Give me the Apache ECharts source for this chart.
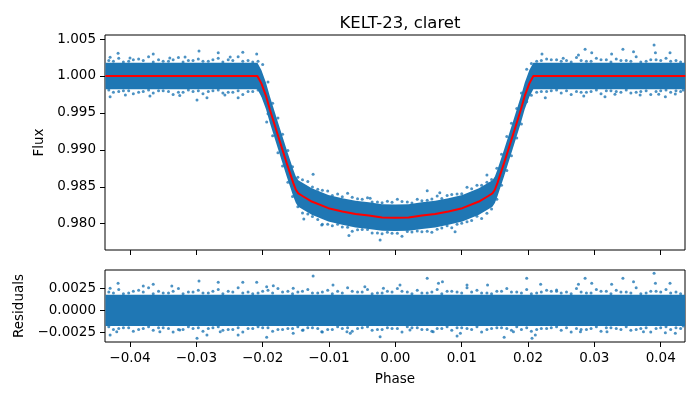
<!DOCTYPE html>
<html>
<head>
<meta charset="utf-8">
<script src="https://cdn.jsdelivr.net/npm/echarts@6/dist/echarts.min.js"></script>
<style>html,body{margin:0;padding:0;background:#fff}#c{width:700px;height:400px}</style>
</head>
<body>
<div id="c"></div>
<script>
// ---- tick labels ----
const xTicks = [-0.04, -0.03, -0.02, -0.01, 0.0, 0.01, 0.02, 0.03, 0.04];
const fluxTicks = [0.980, 0.985, 0.990, 0.995, 1.000, 1.005];
const resTicks = [-0.0025, 0.0, 0.0025];

// ---- transit model (red line) ----
const modelPhase = [-0.0437, -0.0208, -0.0202, -0.0195, -0.0189, -0.01765, -0.01638, -0.01538, -0.0150, -0.01463, -0.0140, -0.0126, -0.0101, -0.0080, -0.0060, -0.0040, -0.0020, 0.0, 0.0020, 0.0040, 0.0060, 0.0080, 0.0101, 0.0126, 0.0140, 0.01463, 0.0150, 0.01538, 0.01638, 0.01765, 0.0189, 0.0195, 0.0202, 0.0208, 0.0437];
const modelFlux = [1.0000, 1.0000, 0.9990, 0.9973, 0.9954, 0.9918, 0.9882, 0.9855, 0.9846, 0.9841, 0.98375, 0.9830, 0.9821, 0.98165, 0.9813, 0.9811, 0.98085, 0.9808, 0.98085, 0.9811, 0.9813, 0.98165, 0.9821, 0.9830, 0.98375, 0.9841, 0.9846, 0.9855, 0.9882, 0.9918, 0.9954, 0.9973, 0.9990, 1.0000, 1.0000];

// ---- dense core of the flux scatter (upper / lower envelope at model phases) ----
const fluxBandUpper = [1.0018, 1.0018, 1.0008, 0.9991, 0.9972, 0.9936, 0.9900, 0.9873, 0.9864, 0.9859, 0.98555, 0.9848, 0.9839, 0.98345, 0.9831, 0.9829, 0.98265, 0.9826, 0.98265, 0.9829, 0.9831, 0.98345, 0.9839, 0.9848, 0.98555, 0.9859, 0.9864, 0.9873, 0.9900, 0.9936, 0.9972, 0.9991, 1.0008, 1.0018, 1.0018];
const fluxBandLower = [0.9982, 0.9982, 0.9972, 0.9955, 0.9936, 0.9900, 0.9864, 0.9837, 0.9828, 0.9823, 0.98195, 0.9812, 0.9803, 0.97985, 0.9795, 0.9793, 0.97905, 0.9790, 0.97905, 0.9793, 0.9795, 0.97985, 0.9803, 0.9812, 0.98195, 0.9823, 0.9828, 0.9837, 0.9864, 0.9900, 0.9936, 0.9955, 0.9972, 0.9982, 0.9982];

// ---- dense core of the residual scatter ----
const resBandPhase = [-0.0437, 0.0437];
const resBandUpper = [0.0018, 0.0018];
const resBandLower = [-0.0018, -0.0018];

// ---- individual flux points (outliers and edge points) ----
const fluxPoints = [
 [-0.0430,1.00253],[-0.0418,1.00308],[-0.0400,1.00244],[-0.0365,1.00298],[-0.0340,1.00244],[-0.0296,1.00339],[-0.0267,1.00316],[-0.0230,1.00321],[-0.0209,1.00298],[-0.0317,1.00257],[-0.0249,1.00257],
 [-0.0430,0.99720],[-0.0407,0.99743],[-0.0370,0.99729],[-0.0325,0.99736],[-0.0299,0.99675],[-0.0284,0.99706],[-0.0257,0.99743],[-0.0237,0.99706],
 [-0.0194,0.99378],[-0.0124,0.98668],[-0.0138,0.98065],[-0.0111,0.97981],[-0.0070,0.97840],
 [-0.0023,0.97778],[0.0048,0.98446],[0.0067,0.98419],[0.0138,0.98659],[-0.0038,0.98343],[0.0090,0.97890],
 [0.0221,1.00298],[0.0286,1.00362],[0.0296,1.00316],[0.0326,1.00298],[0.0343,1.00362],[0.0359,1.00329],[0.0390,1.00420],[0.0392,1.00316],[0.0414,1.00316],[0.0276,1.00285],[0.0253,1.00240],
 [0.0226,0.99706],[0.0316,0.99720],[0.0331,0.99752],[0.0369,0.99743],[0.0397,0.99752],[0.0407,0.99720],[0.0422,0.99756],[0.0434,0.99810],[0.0284,0.99729],
 [-0.0432,1.0021],[-0.0417,1.0024],[-0.0402,1.0020],[-0.0387,1.0023],[-0.0372,1.0026],[-0.0357,1.0022],[-0.0342,1.0020],[-0.0327,1.0025],[-0.0312,1.0021],[-0.0297,1.0023],[-0.0282,1.0020],[-0.0267,1.0024],[-0.0252,1.0022],[-0.0237,1.0026],[-0.0222,1.0021],[-0.0207,1.0020],
 [-0.0192,0.9992],[-0.0177,0.9943],[-0.0162,0.9899],[-0.0147,0.9863],
 [-0.0132,0.98572],[-0.0117,0.98468],[-0.0102,0.98444],[-0.0087,0.98401],[-0.0072,0.98412],[-0.0057,0.98337],[-0.0042,0.98352],[-0.0027,0.98294],[-0.0012,0.98303],[0.0003,0.98330],[0.0018,0.98294],[0.0033,0.98331],[0.0048,0.98318],[0.0063,0.98375],[0.0078,0.98382],[0.0093,0.98403],[0.0108,0.98495],[0.0123,0.98520],[0.0138,0.98561],
 [0.0153,0.9875],[0.0168,0.9918],[0.0183,0.9956],[0.0198,1.0009],
 [0.0213,1.0020],[0.0228,1.0023],[0.0243,1.0022],[0.0258,1.0021],[0.0273,1.0025],[0.0288,1.0020],[0.0303,1.0024],[0.0318,1.0022],[0.0333,1.0023],[0.0348,1.0021],[0.0363,1.0026],[0.0378,1.0020],[0.0393,1.0022],[0.0408,1.0024],[0.0423,1.0021],
 [-0.0425,0.9978],[-0.0410,0.9980],[-0.0395,0.9976],[-0.0380,0.9979],[-0.0365,0.9977],[-0.0350,0.9980],[-0.0335,0.9975],[-0.0320,0.9978],[-0.0305,0.9979],[-0.0290,0.9976],[-0.0275,0.9980],[-0.0260,0.9977],[-0.0245,0.9978],[-0.0230,0.9975],[-0.0215,0.9979],
 [-0.0200,0.99735],[-0.0185,0.9919],[-0.0170,0.9878],[-0.0155,0.9837],
 [-0.0140,0.98145],[-0.0125,0.98096],[-0.0110,0.97992],[-0.0095,0.97973],[-0.0080,0.97955],[-0.0065,0.97898],[-0.0050,0.97920],[-0.0035,0.97874],[-0.0020,0.97865],[-0.0005,0.97870],[0.0010,0.97831],[0.0025,0.97889],[0.0040,0.97890],[0.0055,0.97885],[0.0070,0.97942],[0.0085,0.97946],[0.0100,0.98007],[0.0115,0.98042],[0.0130,0.98070],[0.0145,0.98200],
 [0.0160,0.9852],[0.0175,0.9892],[0.0190,0.9935],[0.0205,0.9974],
 [0.0220,0.9979],[0.0235,0.9980],[0.0250,0.9977],[0.0265,0.9975],[0.0280,0.9978],[0.0295,0.9979],[0.0310,0.9976],[0.0325,0.9980],[0.0340,0.9978],[0.0355,0.9977],[0.0370,0.9979],[0.0385,0.9975],[0.0400,0.9980],[0.0415,0.9978],[0.0430,0.9979],
 [-0.0425,1.0020],[-0.0410,1.0019],[-0.0395,1.0022],[-0.0380,1.0021],[-0.0365,1.0019],[-0.0350,1.0020],[-0.0335,1.0022],[-0.0320,1.0019],[-0.0305,1.0021],[-0.0290,1.0020],[-0.0275,1.0022],[-0.0260,1.0019],[-0.0245,1.0021],[-0.0230,1.0020],[-0.0215,1.0019],
 [-0.0200,1.00155],[-0.0185,0.9963],[-0.0170,0.9921],[-0.0155,0.9877],
 [-0.0140,0.98595],[-0.0125,0.98496],[-0.0110,0.98452],[-0.0095,0.98383],[-0.0080,0.98365],[-0.0065,0.98358],[-0.0050,0.98330],[-0.0035,0.98294],[-0.0020,0.98285],[-0.0005,0.98290],[0.0010,0.98301],[0.0025,0.98279],[0.0040,0.98310],[0.0055,0.98335],[0.0070,0.98342],[0.0085,0.98396],[0.0100,0.98407],[0.0115,0.98472],[0.0130,0.98520],[0.0145,0.98600],
 [0.0160,0.9894],[0.0175,0.9936],[0.0190,0.9977],[0.0205,1.0017],
 [0.0220,1.0021],[0.0235,1.0022],[0.0250,1.0020],[0.0265,1.0019],[0.0280,1.0021],[0.0295,1.0020],[0.0310,1.0022],[0.0325,1.0019],[0.0340,1.0021],[0.0355,1.0020],[0.0370,1.0019],[0.0385,1.0022],[0.0400,1.0021],[0.0415,1.0020],[0.0430,1.0019],
 [-0.0432,0.9981],[-0.0417,0.9979],[-0.0402,0.9980],[-0.0387,0.9978],[-0.0372,0.9981],[-0.0357,0.9980],[-0.0342,0.9979],[-0.0327,0.9978],[-0.0312,0.9981],[-0.0297,0.9980],[-0.0282,0.9979],[-0.0267,0.9981],[-0.0252,0.9978],[-0.0237,0.9980],[-0.0222,0.9979],[-0.0207,0.9981],
 [-0.0192,0.9949],[-0.0177,0.9896],[-0.0162,0.98561],[-0.0147,0.9823],
 [-0.0132,0.98132],[-0.0117,0.98058],[-0.0102,0.97994],[-0.0087,0.97991],[-0.0072,0.97952],[-0.0057,0.97917],[-0.0042,0.97922],[-0.0027,0.97874],[-0.0012,0.97883],[0.0003,0.97870],[0.0018,0.97894],[0.0033,0.97901],[0.0048,0.97898],[0.0063,0.97925],[0.0078,0.97972],[0.0093,0.97993],[0.0108,0.98025],[0.0123,0.98100],[0.0138,0.98141],
 [0.0153,0.9833],[0.0168,0.9872],[0.0183,0.9916],[0.0198,0.9965],
 [0.0213,0.9978],[0.0228,0.9979],[0.0243,0.9981],[0.0258,0.9980],[0.0273,0.9979],[0.0288,0.9978],[0.0303,0.9981],[0.0318,0.9980],[0.0333,0.9979],[0.0348,0.9981],[0.0363,0.9978],[0.0378,0.9980],[0.0393,0.9979],[0.0408,0.9981],[0.0423,0.9980]
];

// ---- individual residual points (outliers and edge points) ----
const resPoints = [
 [-0.0430,0.00253],[-0.0418,0.00311],[-0.0365,0.00300],[-0.0296,0.00338],[-0.0267,0.00322],[-0.0230,0.00322],[-0.0209,0.00322],[-0.0124,0.00395],[-0.0094,0.00291],[-0.0194,0.00272],[-0.0154,0.00253],[-0.0380,0.00280],[-0.0337,0.00280],[-0.0184,0.00284],
 [-0.0430,-0.00285],[-0.0299,-0.00323],[-0.0284,-0.00285],[-0.0237,-0.00285],[-0.0194,-0.00311],[-0.0420,-0.00246],[-0.0355,-0.00246],[-0.0325,-0.00227],[-0.0264,-0.00246],[-0.0154,-0.00265],[-0.0139,-0.00227],[-0.0111,-0.00246],[-0.0073,-0.00246],
 [0.0048,0.00368],[0.0007,0.00291],[0.0065,0.00311],[0.0071,0.00330],[0.0108,0.00291],[0.0139,0.00291],[0.0198,0.00368],[0.0219,0.00300],[0.0276,0.00300],[0.0286,0.00368],[0.0296,0.00311],[0.0326,0.00300],[0.0343,0.00368],[0.0359,0.00330],[0.0390,0.00426],[0.0392,0.00311],[0.0414,0.00311],[-0.0046,0.00272],[-0.0018,0.00253],[0.0243,0.00234],
 [-0.0023,-0.00304],[0.0093,-0.00296],[0.0098,-0.00265],[0.0164,-0.00311],[0.0206,-0.00323],[0.0211,-0.00285],[0.0178,-0.00246],[0.0057,-0.00246],[0.0022,-0.00227],[0.0279,-0.00246],[0.0319,-0.00246],[0.0374,-0.00246],[0.0407,-0.00258],[0.0422,-0.00265],[0.0434,-0.00181],[-0.0068,-0.00265],
 [-0.0432,0.0021],[-0.0417,0.0024],[-0.0402,0.0020],[-0.0387,0.0023],[-0.0372,0.0026],[-0.0357,0.0022],[-0.0342,0.0020],[-0.0327,0.0025],[-0.0312,0.0021],[-0.0297,0.0023],[-0.0282,0.0020],[-0.0267,0.0024],[-0.0252,0.0022],[-0.0237,0.0026],[-0.0222,0.0021],[-0.0207,0.0020],[-0.0192,0.0023],[-0.0177,0.0025],[-0.0162,0.0022],[-0.0147,0.0021],[-0.0132,0.0024],[-0.0117,0.0020],[-0.0102,0.0023],[-0.0087,0.0022],[-0.0072,0.0026],[-0.0057,0.0021],[-0.0042,0.0024],[-0.0027,0.0020],[-0.0012,0.0022],[0.0003,0.0025],[0.0018,0.0021],[0.0033,0.0023],[0.0048,0.0020],[0.0063,0.0024],[0.0078,0.0022],[0.0093,0.0021],[0.0108,0.0026],[0.0123,0.0023],[0.0138,0.0020],[0.0153,0.0022],[0.0168,0.0025],[0.0183,0.0021],[0.0198,0.0024],[0.0213,0.0020],[0.0228,0.0023],[0.0243,0.0022],[0.0258,0.0021],[0.0273,0.0025],[0.0288,0.0020],[0.0303,0.0024],[0.0318,0.0022],[0.0333,0.0023],[0.0348,0.0021],[0.0363,0.0026],[0.0378,0.0020],[0.0393,0.0022],[0.0408,0.0024],[0.0423,0.0021],
 [-0.0425,-0.0022],[-0.0410,-0.0020],[-0.0395,-0.0024],[-0.0380,-0.0021],[-0.0365,-0.0023],[-0.0350,-0.0020],[-0.0335,-0.0025],[-0.0320,-0.0022],[-0.0305,-0.0021],[-0.0290,-0.0024],[-0.0275,-0.0020],[-0.0260,-0.0023],[-0.0245,-0.0022],[-0.0230,-0.0025],[-0.0215,-0.0021],[-0.0200,-0.0020],[-0.0185,-0.0024],[-0.0170,-0.0022],[-0.0155,-0.0021],[-0.0140,-0.0023],[-0.0125,-0.0020],[-0.0110,-0.0025],[-0.0095,-0.0022],[-0.0080,-0.0021],[-0.0065,-0.0024],[-0.0050,-0.0020],[-0.0035,-0.0023],[-0.0020,-0.0022],[-0.0005,-0.0021],[0.0010,-0.0025],[0.0025,-0.0020],[0.0040,-0.0022],[0.0055,-0.0024],[0.0070,-0.0021],[0.0085,-0.0023],[0.0100,-0.0020],[0.0115,-0.0022],[0.0130,-0.0025],[0.0145,-0.0021],[0.0160,-0.0020],[0.0175,-0.0023],[0.0190,-0.0022],[0.0205,-0.0024],[0.0220,-0.0021],[0.0235,-0.0020],[0.0250,-0.0023],[0.0265,-0.0025],[0.0280,-0.0022],[0.0295,-0.0021],[0.0310,-0.0024],[0.0325,-0.0020],[0.0340,-0.0022],[0.0355,-0.0023],[0.0370,-0.0021],[0.0385,-0.0025],[0.0400,-0.0020],[0.0415,-0.0022],[0.0430,-0.0021],
 [-0.0425,0.0020],[-0.0410,0.0019],[-0.0395,0.0022],[-0.0380,0.0021],[-0.0365,0.0019],[-0.0350,0.0020],[-0.0335,0.0022],[-0.0320,0.0019],[-0.0305,0.0021],[-0.0290,0.0020],[-0.0275,0.0022],[-0.0260,0.0019],[-0.0245,0.0021],[-0.0230,0.0020],[-0.0215,0.0019],[-0.0200,0.0022],[-0.0185,0.0020],[-0.0170,0.0021],[-0.0155,0.0019],[-0.0140,0.0022],[-0.0125,0.0020],[-0.0110,0.0021],[-0.0095,0.0019],[-0.0080,0.0020],[-0.0065,0.0022],[-0.0050,0.0021],[-0.0035,0.0019],[-0.0020,0.0020],[-0.0005,0.0021],[0.0010,0.0022],[0.0025,0.0019],[0.0040,0.0020],[0.0055,0.0021],[0.0070,0.0019],[0.0085,0.0022],[0.0100,0.0020],[0.0115,0.0021],[0.0130,0.0020],[0.0145,0.0019],[0.0160,0.0022],[0.0175,0.0021],[0.0190,0.0020],[0.0205,0.0019],[0.0220,0.0021],[0.0235,0.0022],[0.0250,0.0020],[0.0265,0.0019],[0.0280,0.0021],[0.0295,0.0020],[0.0310,0.0022],[0.0325,0.0019],[0.0340,0.0021],[0.0355,0.0020],[0.0370,0.0019],[0.0385,0.0022],[0.0400,0.0021],[0.0415,0.0020],[0.0430,0.0019],
 [-0.0432,-0.0019],[-0.0417,-0.0021],[-0.0402,-0.0020],[-0.0387,-0.0022],[-0.0372,-0.0019],[-0.0357,-0.0020],[-0.0342,-0.0021],[-0.0327,-0.0022],[-0.0312,-0.0019],[-0.0297,-0.0020],[-0.0282,-0.0021],[-0.0267,-0.0019],[-0.0252,-0.0022],[-0.0237,-0.0020],[-0.0222,-0.0021],[-0.0207,-0.0019],[-0.0192,-0.0020],[-0.0177,-0.0022],[-0.0162,-0.0021],[-0.0147,-0.0019],[-0.0132,-0.0020],[-0.0117,-0.0021],[-0.0102,-0.0022],[-0.0087,-0.0019],[-0.0072,-0.0020],[-0.0057,-0.0021],[-0.0042,-0.0019],[-0.0027,-0.0022],[-0.0012,-0.0020],[0.0003,-0.0021],[0.0018,-0.0019],[0.0033,-0.0020],[0.0048,-0.0022],[0.0063,-0.0021],[0.0078,-0.0019],[0.0093,-0.0020],[0.0108,-0.0021],[0.0123,-0.0019],[0.0138,-0.0022],[0.0153,-0.0020],[0.0168,-0.0021],[0.0183,-0.0019],[0.0198,-0.0020],[0.0213,-0.0022],[0.0228,-0.0021],[0.0243,-0.0019],[0.0258,-0.0020],[0.0273,-0.0021],[0.0288,-0.0022],[0.0303,-0.0019],[0.0318,-0.0020],[0.0333,-0.0021],[0.0348,-0.0019],[0.0363,-0.0022],[0.0378,-0.0020],[0.0393,-0.0021],[0.0408,-0.0019],[0.0423,-0.0020]
];

const BLUE = '#1f77b4';
const FONT = 'DejaVu Sans';
const minus = s => s.replace('-', '\u2212');

function bandSeries(xIdx, yIdx, phase, upper, lower) {
  return {
    type: 'custom', xAxisIndex: xIdx, yAxisIndex: yIdx, silent: true, clip: true, z: 1,
    data: [[phase[0], upper[0]]],
    renderItem: function (params, api) {
      const pts = [];
      for (let i = 0; i < phase.length; i++) pts.push(api.coord([phase[i], upper[i]]));
      for (let i = phase.length - 1; i >= 0; i--) pts.push(api.coord([phase[i], lower[i]]));
      return { type: 'polygon', shape: { points: pts }, style: { fill: BLUE } };
    }
  };
}

const chart = echarts.init(document.getElementById('c'));
const tickStyle = { show: true, inside: false, length: 5, lineStyle: { color: '#000', width: 1 } };
const labelStyle = { color: '#000', fontFamily: FONT, fontSize: 13.5 };
const nameStyle = { fontFamily: FONT, fontSize: 13.5, color: '#000' };
const noLine = { show: false, onZero: false };
chart.setOption({
  animation: false,
  backgroundColor: '#fff',
  title: { text: 'KELT-23, claret', left: 395, top: 10, textAlign: 'center',
           textStyle: { fontFamily: FONT, fontSize: 16.5, fontWeight: 'normal', color: '#000' } },
  grid: [
    { left: 105, top: 35, width: 580, height: 215, show: true, borderColor: '#000', borderWidth: 1, backgroundColor: 'transparent' },
    { left: 105, top: 270, width: 580, height: 72, show: true, borderColor: '#000', borderWidth: 1, backgroundColor: 'transparent' }
  ],
  xAxis: [
    { type: 'value', gridIndex: 0, min: -0.04377, max: 0.04366, position: 'bottom',
      splitLine: { show: false }, axisLine: noLine,
      axisTick: Object.assign({ customValues: xTicks }, tickStyle),
      axisLabel: { show: false, customValues: xTicks } },
    { type: 'value', gridIndex: 1, min: -0.04377, max: 0.04366, position: 'bottom',
      splitLine: { show: false }, axisLine: noLine,
      name: 'Phase', nameLocation: 'middle', nameGap: 30, nameTextStyle: nameStyle,
      axisTick: Object.assign({ customValues: xTicks }, tickStyle),
      axisLabel: Object.assign({ margin: 9, customValues: xTicks, formatter: v => minus(v.toFixed(2)) }, labelStyle) }
  ],
  yAxis: [
    { type: 'value', gridIndex: 0, min: 0.97644, max: 1.00555, position: 'left',
      splitLine: { show: false }, axisLine: noLine,
      name: 'Flux', nameLocation: 'middle', nameGap: 46, nameTextStyle: nameStyle,
      axisTick: Object.assign({ customValues: fluxTicks }, tickStyle),
      axisLabel: Object.assign({ margin: 9, customValues: fluxTicks, formatter: v => v.toFixed(3) }, labelStyle) },
    { type: 'value', gridIndex: 1, min: -0.00365, max: 0.00464, position: 'left',
      splitLine: { show: false }, axisLine: noLine,
      name: 'Residuals', nameLocation: 'middle', nameGap: 67, nameTextStyle: nameStyle,
      axisTick: Object.assign({ customValues: resTicks }, tickStyle),
      axisLabel: Object.assign({ margin: 9, customValues: resTicks, formatter: v => minus(v.toFixed(4)) }, labelStyle) }
  ],
  series: [
    bandSeries(0, 0, modelPhase, fluxBandUpper, fluxBandLower),
    { type: 'scatter', xAxisIndex: 0, yAxisIndex: 0, data: fluxPoints, symbol: 'circle', symbolSize: 3,
      itemStyle: { color: BLUE }, silent: true, z: 2 },
    { type: 'line', xAxisIndex: 0, yAxisIndex: 0, data: modelPhase.map((p, i) => [p, modelFlux[i]]),
      showSymbol: false, lineStyle: { color: '#ff0000', width: 2 }, silent: true, z: 5 },
    bandSeries(1, 1, resBandPhase, resBandUpper, resBandLower),
    { type: 'scatter', xAxisIndex: 1, yAxisIndex: 1, data: resPoints, symbol: 'circle', symbolSize: 3,
      itemStyle: { color: BLUE }, silent: true, z: 2 }
  ]
});
</script>
</body>
</html>
